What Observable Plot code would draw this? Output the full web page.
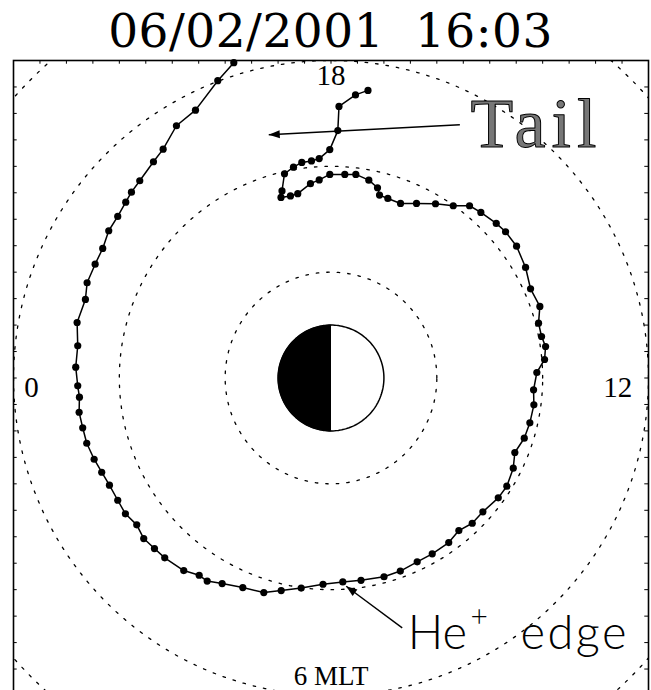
<!DOCTYPE html>
<html><head><meta charset="utf-8">
<script src="https://cdn.jsdelivr.net/npm/d3@7"></script>
<script src="https://cdn.jsdelivr.net/npm/@observablehq/plot@0.6"></script>
<style>
html,body{margin:0;padding:0;background:#fff;overflow:hidden;width:651px;height:690px}
#title{height:50px;line-height:62px;font-family:"DejaVu Serif",serif;font-size:47px;text-align:center;white-space:pre;letter-spacing:0.5px;padding-left:10px;color:#000}
#chart svg{display:block}
</style></head><body>
<div id="title"></div>
<div id="chart"></div>
<script>
// Plasmapause (He+ edge) trace, Earth radii (x toward 12 MLT, y toward 18 MLT)
const traceX = [-1.837,-2.140,-2.561,-2.921,-3.172,-3.355,-3.614,-3.771,-3.879,-4.030,-4.200,-4.314,-4.457,-4.609,-4.641,-4.798,-4.786,-4.824,-4.786,-4.754,-4.760,-4.692,-4.616,-4.476,-4.333,-4.187,-4.030,-3.885,-3.671,-3.539,-3.336,-3.142,-2.783,-2.491,-2.340,-2.057,-1.667,-1.270,-0.941,-0.563,-0.151,0.223,0.567,1.002,1.310,1.629,1.913,2.225,2.416,2.669,2.870,3.161,3.323,3.444,3.474,3.652,3.758,3.834,3.828,3.890,4.036,4.055,3.979,3.922,3.947,3.771,3.677,3.507,3.299,3.123,2.832,2.618,2.310,1.975,1.616,1.314,1.074,0.917,0.879,0.715,0.469,0.261,-0.023,-0.223,-0.388,-0.628,-0.766,-0.945,-0.926,-0.879,-0.709,-0.552,-0.369,-0.223,-0.023,0.129,0.151,0.463,0.699];
const traceY = [5.958,5.618,5.062,4.767,4.325,4.087,3.728,3.512,3.323,3.053,2.783,2.448,2.151,1.800,1.484,1.049,0.609,0.204,-0.147,-0.363,-0.647,-0.941,-1.233,-1.535,-1.781,-2.026,-2.310,-2.567,-2.775,-3.034,-3.223,-3.399,-3.639,-3.728,-3.837,-3.885,-3.960,-4.055,-4.017,-3.970,-3.898,-3.853,-3.824,-3.756,-3.648,-3.474,-3.323,-3.110,-2.883,-2.745,-2.529,-2.265,-2.045,-1.705,-1.408,-1.138,-0.847,-0.507,-0.223,0.104,0.350,0.595,0.784,1.036,1.352,1.686,2.089,2.491,2.764,2.921,3.129,3.255,3.255,3.293,3.299,3.299,3.393,3.456,3.595,3.739,3.847,3.847,3.847,3.743,3.673,3.484,3.440,3.412,3.535,3.860,3.985,4.074,4.102,4.146,4.316,4.675,5.132,5.350,5.435];
const ringRadii = [2, 4, 6, 8];
const frameTicks = [-6,-5.5,-5,-4.5,-4,-3.5,-3,-2.5,-2,-1.5,-1,-0.5,0,0.5,1,1.5,2,2.5,3,3.5,4,4.5,5,5.5,6];
const mltLabels = ["18", "12", "6 MLT", "0"];
const titleText = "06/02/2001  16:03";
const annotations = ["Tail", "He", "+", "edge"];

const trace = traceX.map((x, i) => ({x, y: traceY[i]}));

// geometry helpers (guides, Earth)
const ringPts = ringRadii.flatMap(r => d3.range(0, 361, 1).map(a => ({r, x: r*Math.cos(a*Math.PI/180), y: r*Math.sin(a*Math.PI/180)})));
const earthRim = d3.range(0, 361, 2).map(a => ({x: Math.cos(a*Math.PI/180), y: Math.sin(a*Math.PI/180)}));
const nightSide = d3.range(90, 271, 2).map(a => ({x: Math.cos(a*Math.PI/180), y: Math.sin(a*Math.PI/180)}));

const labelPos = [
  {t: mltLabels[0], x: 0.0, y: 5.53, fs: 29},
  {t: mltLabels[1], x: 5.42, y: -0.35, fs: 29},
  {t: mltLabels[2], x: 0.0, y: -5.80, fs: 27},
  {t: mltLabels[3], x: -5.66, y: -0.35, fs: 29}
];
const arrows = [
  {x1: 2.435, y1: 4.786, x2: -1.176, y2: 4.597},
  {x1: 1.346, y1: -4.722, x2: 0.287, y2: -3.936}
];
arrows.forEach(a => a.rot = Math.atan2(a.x2 - a.x1, a.y2 - a.y1) * 180 / Math.PI);
const arrowHead = {draw(ctx) { ctx.moveTo(0, 0); ctx.lineTo(-4, 11); ctx.lineTo(4, 11); ctx.closePath(); }};

const tl = 0.07;
const plot = Plot.plot({
  width: 651, height: 650,
  marginLeft: 13, marginRight: 3, marginTop: 10, marginBottom: 5,
  x: {domain: [-6, 6], axis: null},
  y: {domain: [-6, 6], axis: null},
  style: {background: "white"},
  marks: [
    Plot.line(ringPts, {x: "x", y: "y", z: "r", stroke: "black", strokeWidth: 1.3, strokeDasharray: "2.5,8", clip: true}),
    Plot.line(nightSide, {x: "x", y: "y", fill: "black", stroke: "black", strokeWidth: 1}),
    Plot.line(earthRim, {x: "x", y: "y", stroke: "black", strokeWidth: 1.5}),
    Plot.line(trace, {x: "x", y: "y", stroke: "black", strokeWidth: 1.5}),
    Plot.dot(trace, {x: "x", y: "y", r: 3.6, fill: "black"}),
    Plot.link(arrows, {x1: "x1", y1: "y1", x2: "x2", y2: "y2", stroke: "black", strokeWidth: 1.4}),
    Plot.dot(arrows, {x: "x2", y: "y2", symbol: arrowHead, rotate: "rot", fill: "black", r: 4}),
    Plot.ruleY(frameTicks, {y: d => d, x1: -6, x2: -6 + tl, stroke: "black", strokeWidth: 1}),
    Plot.ruleY(frameTicks, {y: d => d, x1: 6, x2: 6 - tl, stroke: "black", strokeWidth: 1}),
    Plot.ruleX(frameTicks, {x: d => d, y1: 6, y2: 6 - tl, stroke: "black", strokeWidth: 1}),
    Plot.text(labelPos, {x: "x", y: "y", text: "t", lineAnchor: "bottom", fontFamily: "Liberation Serif", fontSize: d => d.fs, fill: "black"}),
    Plot.text([annotations[0]], {x: 2.637, y: 4.363, text: d => d, textAnchor: "start", lineAnchor: "bottom", fontFamily: "Liberation Serif", fontSize: 70, fill: "#777", stroke: "black", strokeWidth: 1, paintOrder: "fill"}),
    Plot.text([annotations[1]], {x: 1.452, y: -5.119, text: d => d, textAnchor: "start", lineAnchor: "bottom", fontFamily: "Lato", fontWeight: 300, fontSize: 47, fill: "black"}),
    Plot.text([annotations[2]], {x: 2.80, y: -4.698, text: d => d, textAnchor: "middle", lineAnchor: "bottom", fontFamily: "Lato", fontWeight: 300, fontSize: 30, fill: "black"}),
    Plot.text([annotations[3]], {x: 3.58, y: -5.119, text: d => d, textAnchor: "start", lineAnchor: "bottom", fontFamily: "Lato", fontWeight: 300, fontSize: 47, fill: "black"}),
    Plot.frame({stroke: "black", strokeWidth: 1.6})
  ]
});
d3.select(plot).selectAll("text").filter(function() { return this.textContent === "Tail"; }).attr("letter-spacing", 6);
d3.select(plot).selectAll("text").filter(function() { return this.textContent === "edge"; }).attr("letter-spacing", 2.5);
document.getElementById("title").textContent = titleText;
document.getElementById("chart").appendChild(plot);
</script>
</body></html>
